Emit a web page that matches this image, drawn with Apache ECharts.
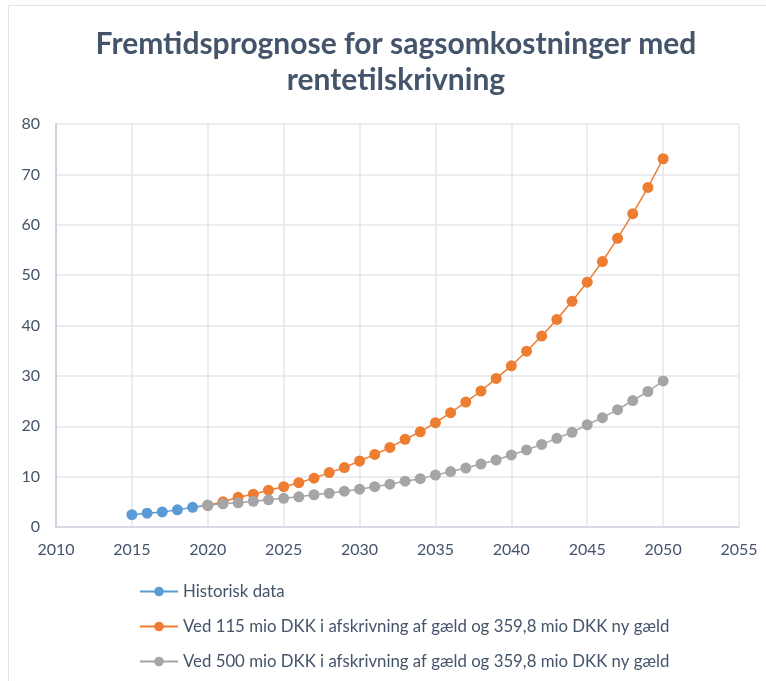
<!DOCTYPE html>
<html>
<head>
<meta charset="utf-8">
<script src="https://cdn.jsdelivr.net/npm/echarts@6/dist/echarts.min.js"></script>
<style>
html,body{margin:0;padding:0;background:#fff;}
#chart{width:766px;height:681px;}
</style>
</head>
<body>
<div id="chart"></div>
<script>
const titleText = "Fremtidsprognose for sagsomkostninger med\nrentetilskrivning";
const seriesNames = [
  "Historisk data",
  "Ved 115 mio DKK i afskrivning af gæld og 359,8 mio DKK ny gæld",
  "Ved 500 mio DKK i afskrivning af gæld og 359,8 mio DKK ny gæld"
];
const histYears = [2015, 2016, 2017, 2018, 2019, 2020];
const histValues = [2.45, 2.75, 3.0, 3.4, 3.9, 4.3];
const progYears = [2020,2021,2022,2023,2024,2025,2026,2027,2028,2029,2030,2031,2032,2033,2034,2035,2036,2037,2038,2039,2040,2041,2042,2043,2044,2045,2046,2047,2048,2049,2050];
const orangeValues = [4.3,5.0,5.9,6.5,7.3,8.0,8.8,9.7,10.8,11.8,13.1,14.4,15.8,17.4,18.9,20.7,22.7,24.8,27.0,29.5,32.0,34.9,37.9,41.2,44.8,48.6,52.7,57.3,62.2,67.4,73.1];
const grayValues = [4.3,4.6,4.8,5.1,5.4,5.7,6.0,6.4,6.7,7.1,7.5,8.0,8.5,9.1,9.6,10.3,11.0,11.7,12.5,13.3,14.3,15.3,16.4,17.6,18.8,20.3,21.7,23.3,25.1,26.9,29.0];
const colors = ["#5b9bd5", "#ed7d31", "#a5a5a5"];

function pairs(xs, ys){ return xs.map((x,i)=>[x, ys[i]]); }

const chart = echarts.init(document.getElementById('chart'), null, {renderer:'canvas'});
const textColor = "#44546a";
const font = "Lato, 'Open Sans', sans-serif";

function lineSeries(name, data, color, z){
  return {
    name: name, type: 'line', data: data, z: z,
    symbol: 'circle', symbolSize: 11,
    itemStyle: {color: color},
    lineStyle: {color: color, width: 1.5},
    emphasis: {disabled: true},
    animation: false
  };
}

chart.setOption({
  backgroundColor: '#fff',
  animation: false,
  title: {
    text: titleText,
    left: 391, top: 21, textAlign: 'center',
    textStyle: {fontFamily: font, fontWeight: 'bold', fontSize: 30, color: textColor, lineHeight: 36}
  },
  graphic: [
    {type:'line', shape:{x1:8.5,y1:5.5,x2:766,y2:5.5}, style:{stroke:'#dfe3ea', lineWidth:1}},
    {type:'line', shape:{x1:8.5,y1:5.5,x2:8.5,y2:681}, style:{stroke:'#dfe3ea', lineWidth:1}}
  ],
  legend: {
    orient: 'vertical', left: 139, top: 583, padding: 0,
    itemGap: 18, itemWidth: 38, itemHeight: 12,
    textStyle: {fontFamily: font, fontSize: 16.8, lineHeight: 16, color: textColor},
    data: seriesNames
  },
  grid: {left: 56, top: 124, width: 683, height: 403, containLabel: false},
  xAxis: {
    type: 'value', min: 2010, max: 2055, interval: 5,
    axisLine: {show: true, onZero: false, lineStyle: {color: '#d0d5de', width: 1.5}},
    axisTick: {show: false},
    axisLabel: {fontFamily: font, fontSize: 16, color: textColor, margin: 15, formatter: v => String(v)},
    splitLine: {show: true, lineStyle: {color: '#e3e6ec', width: 1.5}}
  },
  yAxis: {
    type: 'value', min: 0, max: 80, interval: 10,
    axisLine: {show: true, lineStyle: {color: '#cdd3de', width: 2}},
    axisTick: {show: false},
    axisLabel: {fontFamily: font, fontSize: 16, color: textColor, margin: 16},
    splitLine: {show: true, lineStyle: {color: '#e3e6ec', width: 1.5}}
  },
  series: [
    lineSeries(seriesNames[0], pairs(histYears, histValues), colors[0], 2),
    lineSeries(seriesNames[1], pairs(progYears, orangeValues), colors[1], 3),
    lineSeries(seriesNames[2], pairs(progYears, grayValues), colors[2], 4)
  ]
});
</script>
</body>
</html>
